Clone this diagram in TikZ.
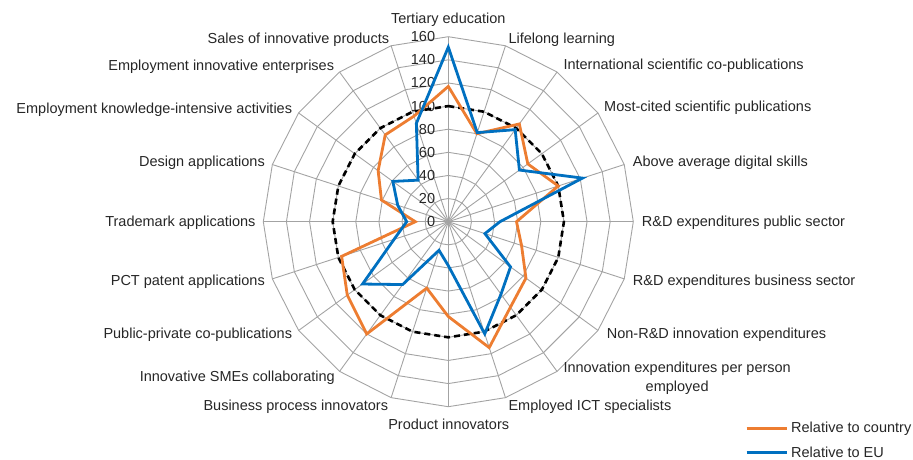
\documentclass[tikz,border=0pt]{standalone}
\usepackage{fontspec}
\setmainfont{Liberation Sans}
\usetikzlibrary{positioning}
\definecolor{cntry}{RGB}{237,125,49}
\definecolor{eucol}{RGB}{0,112,192}
\tikzset{
  grd/.style={draw=black!36,line width=0.9pt},
  lbl/.style={inner sep=0pt,font=\fontsize{14.5}{19.6}\selectfont,text=black!85},
  serie/.style={line width=2.8pt,line join=miter},
  hundred/.style={line width=2.6pt,dash pattern=on 6pt off 4pt}
}
\begin{document}
\begin{tikzpicture}[x=1pt,y=1pt]
\useasboundingbox (0,0) rectangle (913,459);
\coordinate (O) at (448.3,237.3);

\begin{scope}[shift={(O)},x=1.15625pt,y=1.15625pt]
\foreach \k in {0,...,19}
  \draw[grd] (0,0) -- (90-18*\k:160);
\foreach \r in {20,40,...,160}
  \draw[grd] (90:\r) \foreach \k in {1,...,19}{ -- (90-18*\k:\r)} -- cycle;

\foreach \v in {0,20,...,160}
  \node[lbl,anchor=east,xshift=-13pt] (t\v) at (90:\v) {\v};

\draw[hundred] (90:100) \foreach \k in {1,...,19}{ -- (90-18*\k:100)} -- cycle;

\foreach \v [count=\k from 0] in {117,80,104.5,85,100,59,66.6,83,91.4,114.5,82,60.4,120,108,97,28.5,60.8,75,92.8,96}
  \coordinate (c\k) at (90-18*\k:\v);
\foreach \v [count=\k from 0] in {151,81,98.4,76,122,44.7,33.3,66.5,77.5,102,38,26,67.2,91.7,49.3,36,46,59.3,44.4,89.4}
  \coordinate (e\k) at (90-18*\k:\v);

\draw[serie,cntry] (c0) \foreach \k in {1,...,19}{ -- (c\k)} -- cycle;
\draw[serie,eucol] (e0) \foreach \k in {1,...,19}{ -- (e\k)} -- cycle;
\end{scope}

\node[lbl,anchor=base] (tert) at (448.3,435.7) {Tertiary education};
\node[lbl,anchor=base west] (life) at (508.3,415.7) {Lifelong learning};
\node[lbl,anchor=base west] (isc) at (563.3,389) {International scientific co-publications};
\node[lbl,anchor=base west] (mcs) at (604,347.3) {Most-cited scientific publications};
\node[lbl,anchor=base west] (dig) at (632.7,292.3) {Above average digital skills};
\node[lbl,anchor=base west] (rdp) at (641.7,232.3) {R\&D expenditures public sector};
\node[lbl,anchor=base west] (rdb) at (632.7,174) {R\&D expenditures business sector};
\node[lbl,anchor=base west] (nrd) at (606.7,120.7) {Non-R\&D innovation expenditures};
\node[lbl,anchor=north west,align=center] (iex) at (563.3,97.5) {Innovation expenditures per person\\employed};
\node[lbl,anchor=base west] (ict) at (508.3,49) {Employed ICT specialists};
\node[lbl,anchor=base] (prod) at (448.7,30) {Product innovators};
\node[lbl,anchor=base east] (bpi) at (388.3,49) {Business process innovators};
\node[lbl,anchor=base east] (sme) at (335,77.3) {Innovative SMEs collaborating};
\node[lbl,anchor=base east] (ppc) at (292.3,120.7) {Public-private co-publications};
\node[lbl,anchor=base east] (pct) at (265,174) {PCT patent applications};
\node[lbl,anchor=base east] (tm) at (255.7,232.3) {Trademark applications};
\node[lbl,anchor=base east] (des) at (265,292.3) {Design applications};
\node[lbl,anchor=base east] (eki) at (292.3,345.7) {Employment knowledge-intensive activities};
\node[lbl,anchor=base east] (eie) at (334.3,388.3) {Employment innovative enterprises};
\node[lbl,anchor=base east] (sal) at (389.3,415.7) {Sales of innovative products};

\coordinate (lc0) at (746.7,30.7);
\coordinate (lc1) at (787.3,30.7);
\coordinate (le0) at (746.7,6.7);
\coordinate (le1) at (787.3,6.7);
\draw[serie,cntry] (lc0) -- (lc1);
\draw[serie,eucol] (le0) -- (le1);
\node[lbl,right=3.7pt of lc1] (lgc) {Relative to country};
\node[lbl,right=3.7pt of le1] (lge) {Relative to EU};
\end{tikzpicture}
\end{document}
